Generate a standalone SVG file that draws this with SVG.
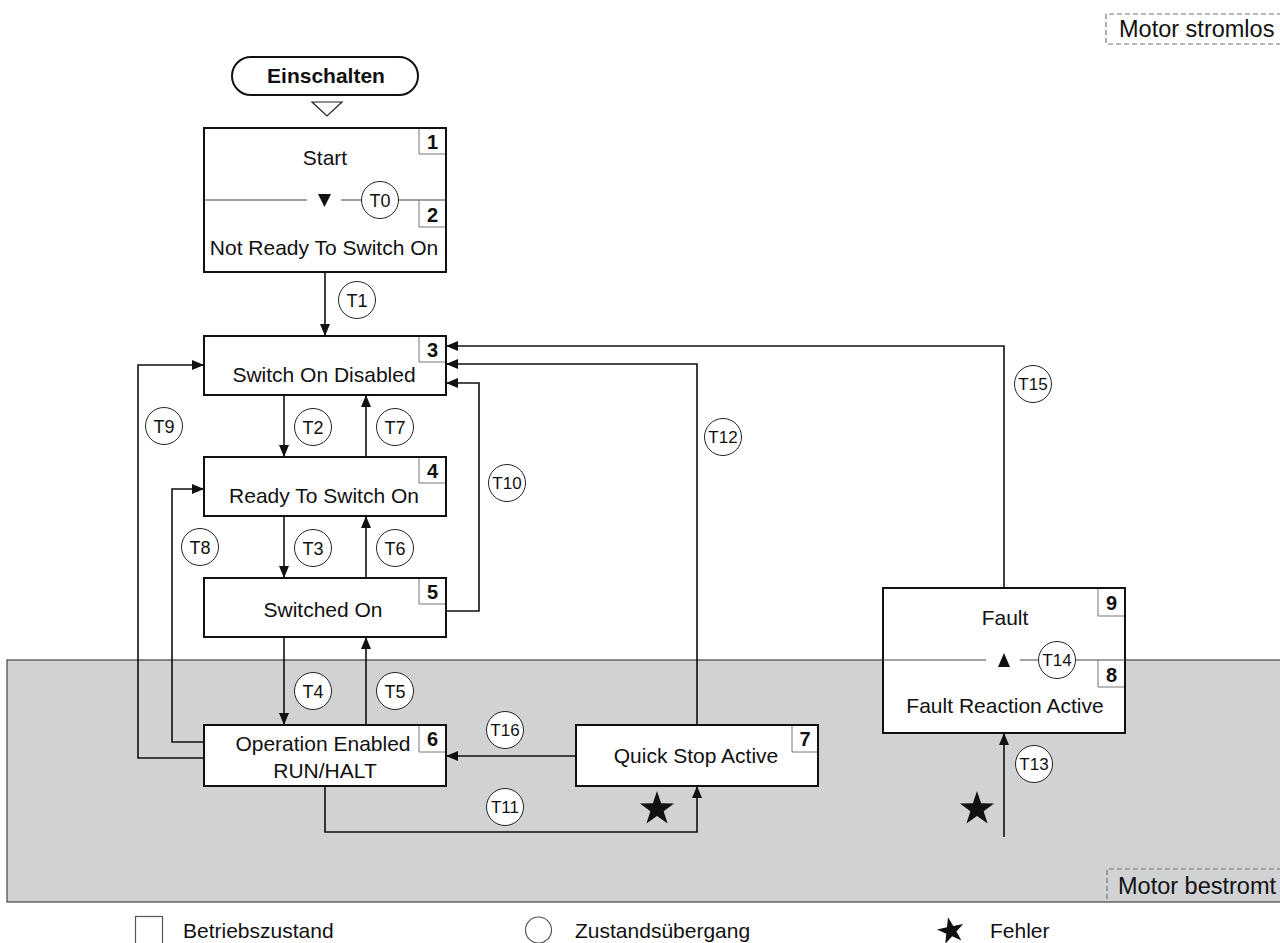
<svg xmlns="http://www.w3.org/2000/svg" xmlns:xlink="http://www.w3.org/1999/xlink" width="1280" height="943" viewBox="0 0 1280 943">
<defs>
<style>
text{font-family:"Liberation Sans",Arial,Helvetica,sans-serif;fill:#111}
.lbl{font-size:21px;text-anchor:middle}
.num{font-size:20px;font-weight:bold;text-anchor:middle}
.tl{font-size:18px;text-anchor:middle}
.tl3{font-size:17px;text-anchor:middle}
.motor{font-size:23.5px}
.leg{font-size:21px}
.box{fill:#fff;stroke:#111;stroke-width:2}
.nb{fill:none;stroke:#777;stroke-width:1}
.sep{fill:none;stroke:#444;stroke-width:1.1}
.tc{fill:#fff;stroke:#222;stroke-width:1}
.con path,.con line{fill:none;stroke:#111;stroke-width:1.6}
.arr{marker-end:url(#ah)}
.dash{fill:none;stroke:#777;stroke-width:1.2;stroke-dasharray:5 3}
</style>
<marker id="ah" markerUnits="userSpaceOnUse" markerWidth="12" markerHeight="10" refX="12" refY="5" orient="auto">
<path d="M0,0 L12,5 L0,10 z" fill="#111"/>
</marker>
<polygon id="star" points="0,-18 4.11,-5.66 17.12,-5.56 6.66,2.16 10.58,14.56 0,7 -10.58,14.56 -6.66,2.16 -17.12,-5.56 -4.11,-5.66" fill="#111"/>
</defs>
<rect width="1280" height="943" fill="#fff"/>

<!-- zones -->
<g id="zones">
<rect x="7" y="660" width="1290" height="242" fill="#d1d2d4" stroke="#444" stroke-width="1.2"/>
<path class="dash" d="M1290,14 H1106 V44 H1290"/>
<text class="motor" x="1119" y="37">Motor stromlos</text>
<path class="dash" d="M1290,869 H1107 V902"/>
<text class="motor" x="1118" y="894">Motor bestromt</text>
</g>

<!-- connectors -->
<g id="connectors" class="con">
<line class="arr" x1="325" y1="272" x2="325" y2="336"/>
<line class="arr" x1="284" y1="395" x2="284" y2="457"/>
<line class="arr" x1="366" y1="457" x2="366" y2="395"/>
<line class="arr" x1="284" y1="516" x2="284" y2="578"/>
<line class="arr" x1="366" y1="578" x2="366" y2="516"/>
<line class="arr" x1="284" y1="637" x2="284" y2="725"/>
<line class="arr" x1="366" y1="725" x2="366" y2="637"/>
<path class="arr" d="M204,758 H138 V365 H204"/>
<path class="arr" d="M204,742 H172 V489 H204"/>
<path class="arr" d="M446,611 H479 V383 H446"/>
<path class="arr" d="M697,725 V364 H446"/>
<path class="arr" d="M1004,588 V346 H446"/>
<path class="arr" d="M576,756 H446"/>
<path class="arr" d="M325,786 V832 H697 V786"/>
<path class="arr" d="M1004,837 V733"/>
</g>

<!-- power on -->
<g id="einschalten">
<rect x="232" y="57" width="186" height="38" rx="19" fill="#fff" stroke="#111" stroke-width="2"/>
<text x="326" y="83" style="font-size:21px;font-weight:bold;text-anchor:middle">Einschalten</text>
<polygon points="312,102 342,102 327,116" fill="#fff" stroke="#222" stroke-width="1.2"/>
</g>

<!-- states -->
<g id="s1-2">
<rect class="box" x="204" y="128" width="242" height="144"/>
<path class="nb" d="M419,129 V154 H445"/>
<text class="num" x="432.5" y="149">1</text>
<text class="lbl" x="325" y="165">Start</text>
<path class="sep" d="M204,200 H307 M341,200 H446"/>
<polygon points="318,194 331,194 324.5,207" fill="#111"/>
<path class="nb" d="M419,200 V227 H445"/>
<text class="num" x="432.5" y="222">2</text>
<text class="lbl" x="324" y="255">Not Ready To Switch On</text>
</g>

<g id="s3">
<rect class="box" x="204" y="336" width="242" height="59"/>
<path class="nb" d="M419,337 V362 H445"/>
<text class="num" x="432.5" y="357">3</text>
<text class="lbl" x="324" y="382">Switch On Disabled</text>
</g>

<g id="s4">
<rect class="box" x="204" y="457" width="242" height="59"/>
<path class="nb" d="M419,458 V483 H445"/>
<text class="num" x="432.5" y="478">4</text>
<text class="lbl" x="324" y="503">Ready To Switch On</text>
</g>

<g id="s5">
<rect class="box" x="204" y="578" width="242" height="59"/>
<path class="nb" d="M419,579 V604 H445"/>
<text class="num" x="432.5" y="599">5</text>
<text class="lbl" x="323" y="617">Switched On</text>
</g>

<g id="s6">
<rect class="box" x="204" y="725" width="242" height="61"/>
<path class="nb" d="M419,726 V752 H445"/>
<text class="num" x="432.5" y="746">6</text>
<text class="lbl" x="323" y="751">Operation Enabled</text>
<text class="lbl" x="325" y="778">RUN/HALT</text>
</g>

<g id="s7">
<rect class="box" x="576" y="725" width="242" height="61"/>
<path class="nb" d="M792,726 V752 H817"/>
<text class="num" x="805" y="746">7</text>
<text class="lbl" x="696" y="763">Quick Stop Active</text>
</g>

<g id="s8-9">
<rect class="box" x="883" y="588" width="242" height="145"/>
<path class="nb" d="M1098,589 V616 H1124"/>
<text class="num" x="1111.5" y="610">9</text>
<text class="lbl" x="1005" y="625">Fault</text>
<path class="sep" d="M883,660 H986 M1020,660 H1125"/>
<polygon points="998,667 1010,667 1004,653" fill="#111"/>
<path class="nb" d="M1098,660 V687 H1124"/>
<text class="num" x="1111.5" y="682">8</text>
<text class="lbl" x="1005" y="713">Fault Reaction Active</text>
</g>

<!-- transition labels -->
<g id="transitions">
<circle class="tc" cx="380" cy="200" r="18.5"/><text class="tl" x="380" y="206.5">T0</text>
<circle class="tc" cx="357" cy="300" r="18.5"/><text class="tl" x="357" y="306.5">T1</text>
<circle class="tc" cx="313" cy="427" r="18.5"/><text class="tl" x="313" y="433.5">T2</text>
<circle class="tc" cx="395" cy="427" r="18.5"/><text class="tl" x="395" y="433.5">T7</text>
<circle class="tc" cx="164" cy="426" r="18.5"/><text class="tl" x="164" y="432.5">T9</text>
<circle class="tc" cx="313" cy="548" r="18.5"/><text class="tl" x="313" y="554.5">T3</text>
<circle class="tc" cx="395" cy="548" r="18.5"/><text class="tl" x="395" y="554.5">T6</text>
<circle class="tc" cx="200" cy="547" r="18.5"/><text class="tl" x="200" y="553.5">T8</text>
<circle class="tc" cx="507" cy="483" r="18.5"/><text class="tl3" x="507" y="489">T10</text>
<circle class="tc" cx="723" cy="437" r="18.5"/><text class="tl3" x="723" y="443">T12</text>
<circle class="tc" cx="1033" cy="384" r="18.5"/><text class="tl3" x="1033" y="390">T15</text>
<circle class="tc" cx="313" cy="691" r="18.5"/><text class="tl" x="313" y="697.5">T4</text>
<circle class="tc" cx="395" cy="691" r="18.5"/><text class="tl" x="395" y="697.5">T5</text>
<circle class="tc" cx="505" cy="730" r="18.5"/><text class="tl3" x="505" y="736">T16</text>
<circle class="tc" cx="505" cy="807" r="18.5"/><text class="tl3" x="505" y="813">T11</text>
<circle class="tc" cx="1057" cy="660" r="18.5"/><text class="tl3" x="1057" y="666">T14</text>
<circle class="tc" cx="1034" cy="764" r="18.5"/><text class="tl3" x="1034" y="770">T13</text>
<use xlink:href="#star" transform="translate(657,809)"/>
<use xlink:href="#star" transform="translate(977,809)"/>
</g>

<!-- legend -->
<g id="legend">
<rect x="135.5" y="916.5" width="27" height="32" fill="#fff" stroke="#555" stroke-width="1.2"/>
<text class="leg" x="183" y="938">Betriebszustand</text>
<circle cx="538.5" cy="930" r="13" fill="#fff" stroke="#555" stroke-width="1.2"/>
<text class="leg" x="575" y="938">Zustandsübergang</text>
<use xlink:href="#star" transform="translate(951,931) rotate(-12) scale(0.78)"/>
<text class="leg" x="990" y="938">Fehler</text>
</g>
</svg>
